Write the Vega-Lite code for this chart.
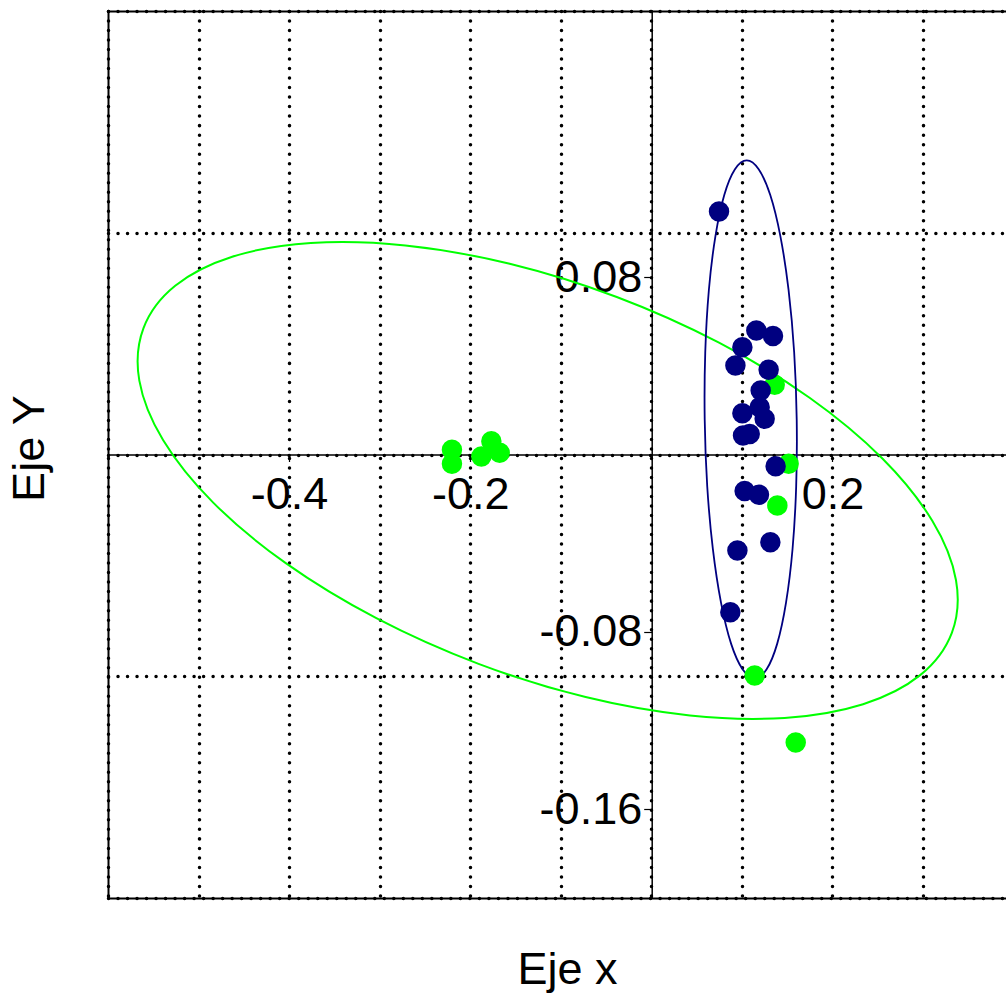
{
  "$schema": "https://vega.github.io/schema/vega-lite/v6.json",
  "width": 898,
  "height": 887,
  "autosize": {"type": "none"},
  "padding": {"left": 108, "top": 11, "right": 0, "bottom": 96},
  "background": "white",
  "config": {"view": {"stroke": null}, "font": "Liberation Sans"},
  "datasets": {
    "pts": [
      {"x": -0.2202, "y": 0.0021, "g": "green"},
      {"x": -0.2202, "y": -0.0042, "g": "green"},
      {"x": -0.1767, "y": 0.0060, "g": "green"},
      {"x": -0.1877, "y": -0.0009, "g": "green"},
      {"x": -0.1675, "y": 0.0008, "g": "green"},
      {"x": 0.1362, "y": 0.0314, "g": "green"},
      {"x": 0.1516, "y": -0.0042, "g": "green"},
      {"x": 0.1391, "y": -0.0230, "g": "green"},
      {"x": 0.1141, "y": -0.0997, "g": "green"},
      {"x": 0.1594, "y": -0.1299, "g": "green"},
      {"x": 0.0747, "y": 0.1096, "g": "navy"},
      {"x": 0.1159, "y": 0.0559, "g": "navy"},
      {"x": 0.1343, "y": 0.0534, "g": "navy"},
      {"x": 0.1005, "y": 0.0484, "g": "navy"},
      {"x": 0.0928, "y": 0.0401, "g": "navy"},
      {"x": 0.1295, "y": 0.0382, "g": "navy"},
      {"x": 0.1207, "y": 0.0289, "g": "navy"},
      {"x": 0.1005, "y": 0.0186, "g": "navy"},
      {"x": 0.1196, "y": 0.0213, "g": "navy"},
      {"x": 0.1251, "y": 0.0161, "g": "navy"},
      {"x": 0.1012, "y": 0.0086, "g": "navy"},
      {"x": 0.1086, "y": 0.0093, "g": "navy"},
      {"x": 0.1372, "y": -0.0053, "g": "navy"},
      {"x": 0.1030, "y": -0.0165, "g": "navy"},
      {"x": 0.1188, "y": -0.0182, "g": "navy"},
      {"x": 0.0950, "y": -0.0433, "g": "navy"},
      {"x": 0.1314, "y": -0.0396, "g": "navy"},
      {"x": 0.0872, "y": -0.0711, "g": "navy"}
    ],
    "ellG": [
      {"i": 0, "x": 0.3318, "y": -0.0804},
      {"i": 1, "x": 0.2968, "y": -0.0995},
      {"i": 2, "x": 0.2338, "y": -0.1126},
      {"i": 3, "x": 0.1471, "y": -0.1188},
      {"i": 4, "x": 0.0426, "y": -0.1177},
      {"i": 5, "x": -0.0726, "y": -0.1094},
      {"i": 6, "x": -0.1908, "y": -0.0944},
      {"i": 7, "x": -0.3037, "y": -0.0738},
      {"i": 8, "x": -0.4037, "y": -0.0490},
      {"i": 9, "x": -0.4841, "y": -0.0216},
      {"i": 10, "x": -0.5392, "y": 0.0065},
      {"i": 11, "x": -0.5654, "y": 0.0333},
      {"i": 12, "x": -0.5608, "y": 0.0570},
      {"i": 13, "x": -0.5258, "y": 0.0761},
      {"i": 14, "x": -0.4628, "y": 0.0892},
      {"i": 15, "x": -0.3761, "y": 0.0954},
      {"i": 16, "x": -0.2716, "y": 0.0943},
      {"i": 17, "x": -0.1564, "y": 0.0860},
      {"i": 18, "x": -0.0382, "y": 0.0710},
      {"i": 19, "x": 0.0747, "y": 0.0504},
      {"i": 20, "x": 0.1747, "y": 0.0256},
      {"i": 21, "x": 0.2551, "y": -0.0018},
      {"i": 22, "x": 0.3102, "y": -0.0299},
      {"i": 23, "x": 0.3364, "y": -0.0567}
    ],
    "ellN": [
      {"i": 0, "x": 0.1605, "y": 0.0158},
      {"i": 1, "x": 0.1577, "y": 0.0460},
      {"i": 2, "x": 0.1515, "y": 0.0742},
      {"i": 3, "x": 0.1425, "y": 0.0984},
      {"i": 4, "x": 0.1313, "y": 0.1170},
      {"i": 5, "x": 0.1185, "y": 0.1286},
      {"i": 6, "x": 0.1053, "y": 0.1326},
      {"i": 7, "x": 0.0923, "y": 0.1286},
      {"i": 8, "x": 0.0805, "y": 0.1170},
      {"i": 9, "x": 0.0707, "y": 0.0984},
      {"i": 10, "x": 0.0635, "y": 0.0742},
      {"i": 11, "x": 0.0595, "y": 0.0460},
      {"i": 12, "x": 0.0589, "y": 0.0158},
      {"i": 13, "x": 0.0617, "y": -0.0144},
      {"i": 14, "x": 0.0679, "y": -0.0426},
      {"i": 15, "x": 0.0769, "y": -0.0668},
      {"i": 16, "x": 0.0881, "y": -0.0854},
      {"i": 17, "x": 0.1009, "y": -0.0970},
      {"i": 18, "x": 0.1141, "y": -0.1010},
      {"i": 19, "x": 0.1271, "y": -0.0970},
      {"i": 20, "x": 0.1389, "y": -0.0854},
      {"i": 21, "x": 0.1487, "y": -0.0668},
      {"i": 22, "x": 0.1559, "y": -0.0426},
      {"i": 23, "x": 0.1599, "y": -0.0144}
    ]
  },
  "layer": [
    {
      "data": {"name": "ellG"},
      "mark": {"type": "line", "interpolate": "cardinal-closed", "strokeWidth": 2, "color": "#00FF00"},
      "encoding": {
        "x": {
          "field": "x", "type": "quantitative",
          "scale": {"domain": [-0.6, 0.3916], "nice": false, "zero": false},
          "axis": {
            "orient": "bottom",
            "values": [-0.6, -0.5, -0.4, -0.3, -0.2, -0.1, 0, 0.1, 0.2, 0.3],
            "grid": true, "gridColor": "black", "gridOpacity": 1, "gridDash": [0.01, 9.5], "gridWidth": 3.5, "gridCap": "round",
            "ticks": false, "labels": false,
            "domain": true, "domainColor": "black", "domainWidth": 2,
            "title": "Eje x", "titleFont": "Liberation Sans", "titleFontSize": 45, "titleFontWeight": "normal", "titleColor": "black",
            "titleX": 459, "titleY": 85, "titleBaseline": "alphabetic", "titleAlign": "center", "titleAngle": 0
          }
        },
        "y": {
          "field": "y", "type": "quantitative",
          "scale": {"domain": [-0.2, 0.2], "nice": false, "zero": false},
          "axis": {
            "orient": "left",
            "values": [-0.2, -0.1, 0, 0.1, 0.2],
            "grid": true, "gridColor": "black", "gridOpacity": 1, "gridDash": [0.01, 9.5], "gridWidth": 3.5, "gridCap": "round",
            "ticks": false, "labels": false,
            "domain": true, "domainColor": "black", "domainWidth": 2,
            "title": "Eje Y", "titleFont": "Liberation Sans", "titleFontSize": 45, "titleFontWeight": "normal", "titleColor": "black",
            "titleX": -65, "titleY": 437, "titleBaseline": "alphabetic", "titleAlign": "center", "titleAngle": -90
          }
        },
        "order": {"field": "i", "type": "quantitative"}
      }
    },
    {
      "data": {"name": "ellN"},
      "mark": {"type": "line", "interpolate": "cardinal-closed", "strokeWidth": 1.8, "color": "#000080"},
      "encoding": {
        "x": {
          "field": "x", "type": "quantitative",
          "scale": {"domain": [-0.6, 0.3916], "nice": false, "zero": false},
          "axis": {
            "orient": "top", "grid": false, "ticks": false, "labels": false,
            "domain": true, "domainColor": "black", "domainWidth": 2, "title": null
          }
        },
        "y": {
          "field": "y", "type": "quantitative",
          "scale": {"domain": [-0.2, 0.2], "nice": false, "zero": false},
          "axis": null
        },
        "order": {"field": "i", "type": "quantitative"}
      }
    },
    {
      "data": {"name": "pts"},
      "mark": {"type": "circle", "size": 420, "opacity": 1},
      "encoding": {
        "x": {
          "field": "x", "type": "quantitative",
          "scale": {"domain": [-0.6, 0.3916], "nice": false, "zero": false},
          "axis": {
            "orient": "bottom", "offset": -443.5,
            "values": [-0.4, -0.2, 0.2],
            "grid": false,
            "domain": true, "domainColor": "black", "domainWidth": 1.5,
            "ticks": true, "tickColor": "black", "tickSize": 7, "tickWidth": 1.2,
            "labels": true, "labelFont": "Liberation Sans", "labelFontSize": 45, "labelColor": "black", "labelPadding": 11,
            "labelOverlap": false, "labelFlush": false,
            "labelExpr": "datum.value < 0 ? '-' + format(-datum.value, '.1f') : format(datum.value, '.1f')",
            "title": null
          }
        },
        "y": {
          "field": "y", "type": "quantitative",
          "scale": {"domain": [-0.2, 0.2], "nice": false, "zero": false},
          "axis": {
            "orient": "left", "offset": -543.7,
            "values": [-0.16, -0.08, 0.08],
            "grid": false,
            "domain": true, "domainColor": "black", "domainWidth": 1.5,
            "ticks": true, "tickColor": "black", "tickSize": 8, "tickWidth": 1.2,
            "labels": true, "labelFont": "Liberation Sans", "labelFontSize": 45, "labelColor": "black", "labelPadding": 2,
            "labelBaseline": "middle", "labelOverlap": false, "labelFlush": false,
            "labelExpr": "datum.value < 0 ? '-' + format(-datum.value, '.2f') : format(datum.value, '.2f')",
            "title": null
          }
        },
        "color": {
          "field": "g", "type": "nominal",
          "scale": {"domain": ["green", "navy"], "range": ["#00FF00", "#000080"]},
          "legend": null
        }
      }
    }
  ],
  "resolve": {"axis": {"x": "independent", "y": "independent"}}
}
